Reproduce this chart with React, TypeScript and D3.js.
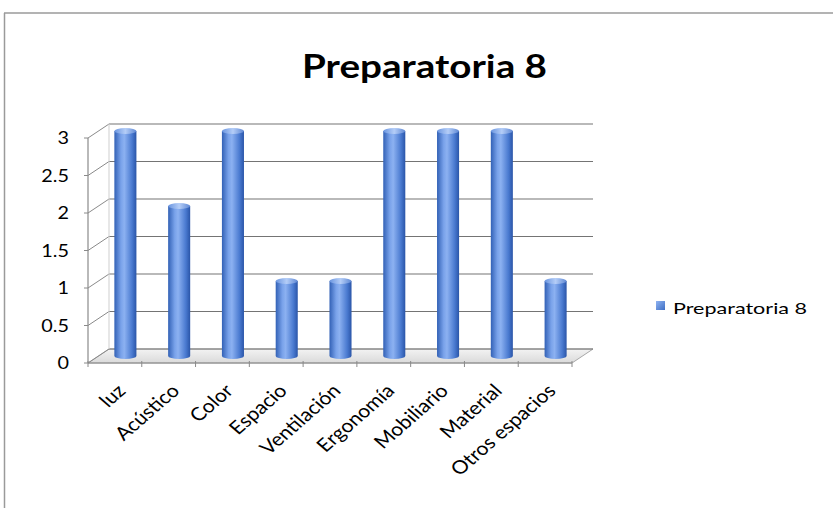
import React from "react";
import * as d3 from "d3";

const categories = ["luz", "Acústico", "Color", "Espacio", "Ventilación", "Ergonomía", "Mobiliario", "Material", "Otros espacios"];
const values = [3, 2, 3, 1, 1, 3, 3, 3, 1];
const yTicks = [0, 0.5, 1, 1.5, 2, 2.5, 3];
const seriesName = "Preparatoria 8";
const title = "Preparatoria 8";

export default function App() {
  const W = 833, H = 508;
  const x0 = 88, x1 = 572, yBase = 363;
  const dx = 21, dy = -14;
  const x = d3.scaleBand<string>().domain(categories).range([x0, x1]).paddingInner(0.59).paddingOuter(0.295);
  const xb = d3.scaleBand<string>().domain(categories).range([x0, x1]);
  const y = d3.scaleLinear().domain([0, 3]).range([yBase, yBase - 225]);
  const font = "Lato, 'Open Sans', sans-serif";
  const bx = dx * 0.5, by = dy * 0.5;
  const bw = x.bandwidth();
  return (
    <svg width={W} height={H} style={{ position: "absolute", left: 0, top: 0, background: "#fff" }}>
      <defs>
        <linearGradient id="cyl" x1="0" x2="1" y1="0" y2="0">
          <stop offset="0" stopColor="#3261b6" />
          <stop offset="0.3" stopColor="#79a2ea" />
          <stop offset="0.45" stopColor="#8cb1f1" />
          <stop offset="0.8" stopColor="#4a7ad0" />
          <stop offset="1" stopColor="#2a55a8" />
        </linearGradient>
        <linearGradient id="cap" x1="0" x2="1" y1="0" y2="0">
          <stop offset="0" stopColor="#6a95e0" />
          <stop offset="0.5" stopColor="#b4cdf7" />
          <stop offset="1" stopColor="#5f88d4" />
        </linearGradient>
        <linearGradient id="floor" x1="0" x2="0" y1="0" y2="1">
          <stop offset="0" stopColor="#f3f3f3" />
          <stop offset="1" stopColor="#dadada" />
        </linearGradient>
        <linearGradient id="leg" x1="0" x2="1" y1="0" y2="1">
          <stop offset="0" stopColor="#8fb3f2" />
          <stop offset="1" stopColor="#3f6fc4" />
        </linearGradient>
      </defs>
      {/* chart border */}
      <line x1={4} y1={13} x2={W} y2={13} stroke="#b3b3b3" strokeWidth={2} />
      <line x1={4.5} y1={13} x2={4.5} y2={H} stroke="#9a9a9a" strokeWidth={1.5} />
      <text x={424.5} y={78} textAnchor="middle" fontFamily={font} fontWeight="bold" fontSize={33} textLength={245} lengthAdjust="spacingAndGlyphs" fill="#000">{title}</text>

      {/* floor */}
      <polygon points={`${x0},${yBase} ${x1},${yBase} ${x1 + dx},${yBase + dy} ${x0 + dx},${yBase + dy}`} fill="url(#floor)" stroke="#a8a8a8" strokeWidth={1} />
      {/* walls and gridlines */}
      {yTicks.map((t) => (
        <g key={t}>
          <line x1={x0 + dx} x2={x1 + dx} y1={y(t) + dy} y2={y(t) + dy} stroke="#747474" strokeWidth={1.2} />
          <line x1={x0} x2={x0 + dx} y1={y(t)} y2={y(t) + dy} stroke="#8a8a8a" strokeWidth={1} />
          <line x1={x0 - 4} x2={x0} y1={y(t)} y2={y(t)} stroke="#8a8a8a" strokeWidth={1} />
          <text transform={`translate(69,${y(t) + 6}) scale(1.2,1)`} textAnchor="end" fontFamily={font} fontSize={16.5} fill="#000">{String(t)}</text>
        </g>
      ))}
      <line x1={x0 + dx} x2={x0 + dx} y1={y(3) + dy} y2={yBase + dy} stroke="#cfcfcf" strokeWidth={1} />
      <line x1={x0} x2={x0} y1={y(3)} y2={yBase} stroke="#8a8a8a" strokeWidth={1.2} />
      <line x1={x0} x2={x1} y1={yBase} y2={yBase} stroke="#8a8a8a" strokeWidth={1.2} />
      {categories.concat(["__end"]).map((c, i) => {
        const px = x0 + i * xb.step();
        return <line key={c} x1={px} x2={px} y1={yBase - 2} y2={yBase + 4} stroke="#8a8a8a" strokeWidth={1} />;
      })}

      {/* bars */}
      {categories.map((c, i) => {
        const left = (x(c) as number) + bx;
        const top = y(values[i]) + by;
        const bottom = yBase + by;
        const ry = 3;
        return (
          <g key={c}>
            <path d={`M${left},${top} L${left},${bottom} A${bw / 2},${ry} 0 0 0 ${left + bw},${bottom} L${left + bw},${top} Z`} fill="url(#cyl)" />
            <ellipse cx={left + bw / 2} cy={top} rx={bw / 2} ry={ry} fill="url(#cap)" />
          </g>
        );
      })}

      {/* x labels */}
      {categories.map((c) => {
        const cx = (xb(c) as number) + xb.bandwidth() / 2 + 12;
        return (
          <text key={c} transform={`translate(${cx},${yBase + 29}) scale(1.15,1) rotate(-45)`} textAnchor="end" fontFamily={font} fontSize={18.5} fill="#000">{c}</text>
        );
      })}

      {/* legend */}
      <rect x={656} y={301} width={9} height={9} fill="url(#leg)" />
      <text x={673} y={313.5} fontFamily={font} fontSize={15} textLength={134} lengthAdjust="spacingAndGlyphs" fill="#000">{seriesName}</text>
    </svg>
  );
}
